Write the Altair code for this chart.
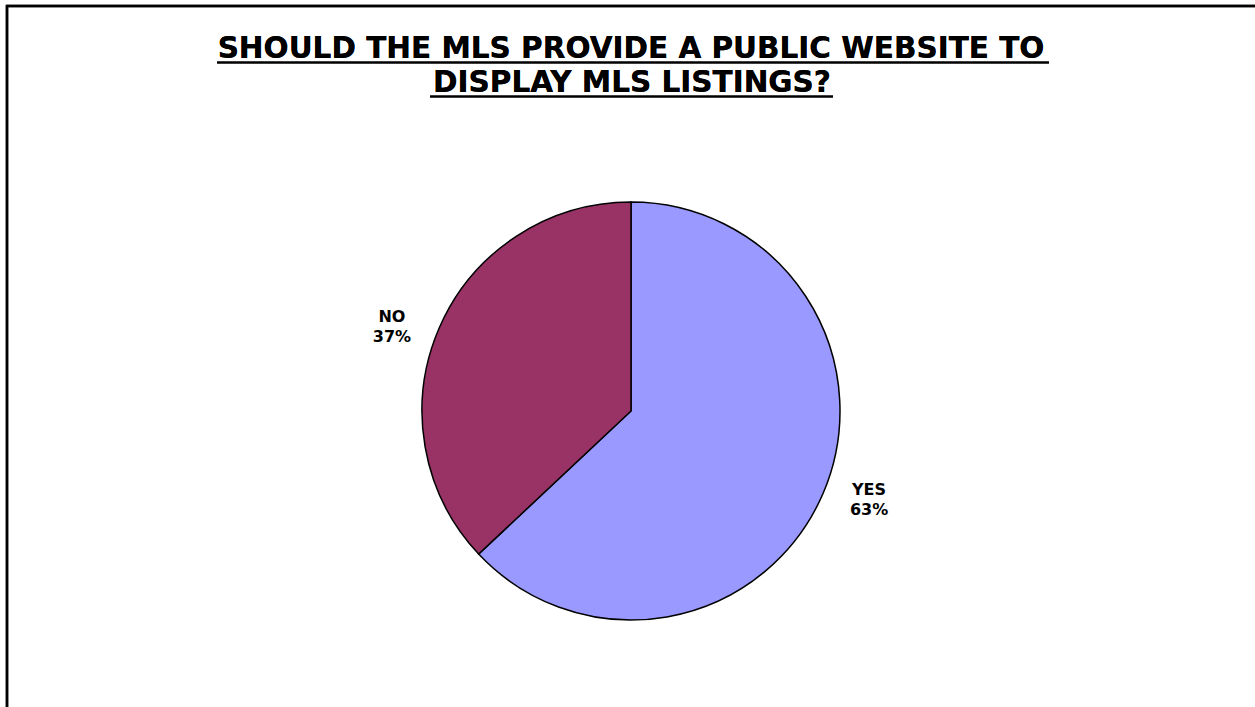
import altair as alt
import pandas as pd

# ---- data ----
categories = ["YES", "NO"]
values = [63, 37]
colors = ["#9999FF", "#993366"]
title_lines = ["SHOULD THE MLS PROVIDE A PUBLIC WEBSITE TO", "DISPLAY MLS LISTINGS?"]

df = pd.DataFrame({
    "category": categories,
    "value": values,
    "order": list(range(len(categories))),
})
df["label"] = df["category"] + "\n" + df["value"].astype(str) + "%"

W, H = 1255, 707
CX, CY = 631, 411
R = 209
FONT = "DejaVu Sans"

base = alt.Chart(df).encode(
    theta=alt.Theta("value:Q", stack=True),
    order=alt.Order("order:Q"),
)

pie = base.mark_arc(stroke="black", strokeWidth=1.5, radius=R).encode(
    color=alt.Color("category:N",
                    scale=alt.Scale(domain=categories, range=colors),
                    legend=None),
    x=alt.value(CX), y=alt.value(CY),
)


def label_layer(cat, dx, dy):
    return base.mark_text(
        radius=255, font=FONT, fontSize=16, fontWeight="bold", dx=dx, dy=dy,
        lineBreak="\n", lineHeight=20, color="black", align="center", baseline="middle",
    ).encode(
        text="label:N",
        x=alt.value(CX), y=alt.value(CY),
        opacity=alt.condition(alt.datum.category == cat, alt.value(1), alt.value(0)),
    )


labels_yes = label_layer("YES", 4, -22)
labels_no = label_layer("NO", -5, 7)

title1 = alt.Chart(df).mark_text(
    font=FONT, fontSize=29.5, fontWeight="bold", align="center", baseline="alphabetic", color="black"
).encode(x=alt.value(631), y=alt.value(58), text=alt.value(title_lines[0]))

title2 = alt.Chart(df).mark_text(
    font=FONT, fontSize=29.5, fontWeight="bold", align="center", baseline="alphabetic", color="black"
).encode(x=alt.value(632), y=alt.value(92), text=alt.value(title_lines[1]))

ul1 = alt.Chart(df).mark_rule(color="black", strokeWidth=2).encode(
    x=alt.value(217), x2=alt.value(1049), y=alt.value(62.5))
ul2 = alt.Chart(df).mark_rule(color="black", strokeWidth=2).encode(
    x=alt.value(430), x2=alt.value(833), y=alt.value(96.5))

frame_left = alt.Chart(df).mark_rule(color="black", strokeWidth=2.5).encode(
    x=alt.value(7), y=alt.value(5), y2=alt.value(H))
frame_top = alt.Chart(df).mark_rule(color="black", strokeWidth=2.5).encode(
    x=alt.value(6), x2=alt.value(W), y=alt.value(6))

chart = alt.layer(pie, labels_yes, labels_no, title1, title2, ul1, ul2,
                  frame_left, frame_top).properties(
    width=W, height=H, padding=0,
    autosize=alt.AutoSizeParams(type="none"),
    background="white",
).configure_view(stroke=None)

chart.save("out.html", embed_options={"renderer": "svg", "actions": False})
